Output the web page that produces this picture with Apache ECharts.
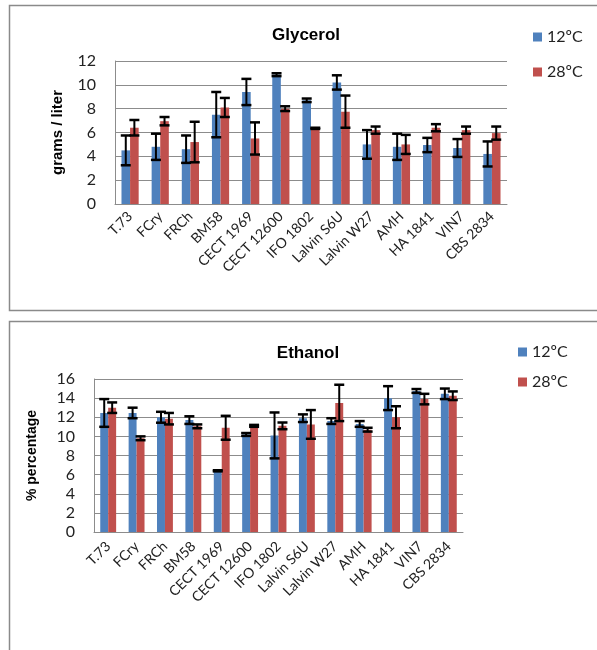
<!DOCTYPE html>
<html>
<head>
<meta charset="utf-8">
<script src="https://cdn.jsdelivr.net/npm/echarts@6/dist/echarts.min.js"></script>
<style>
  html, body { margin: 0; padding: 0; background: #fff; }
  #chart { width: 597px; height: 650px; }
</style>
</head>
<body>
<div id="chart"></div>
<script>
// Yeast strains tested
const strains = ['T.73', 'FCry', 'FRCh', 'BM58', 'CECT 1969', 'CECT 12600', 'IFO 1802',
  'Lalvin S6U', 'Lalvin W27', 'AMH', 'HA 1841', 'VIN7', 'CBS 2834'];

const seriesNames = ['12ºC', '28ºC'];

// Glycerol production (grams / liter) and standard deviations
const glycerol12 = [4.5, 4.8, 4.6, 7.5, 9.4, 10.85, 8.7, 10.2, 5.0, 4.8, 4.95, 4.7, 4.2];
const glycerol12Err = [1.25, 1.1, 1.15, 1.9, 1.1, 0.12, 0.15, 0.6, 1.2, 1.1, 0.6, 0.75, 1.05];
const glycerol28 = [6.4, 6.95, 5.2, 8.1, 5.5, 8.0, 6.35, 7.75, 6.2, 5.0, 6.4, 6.2, 5.95];
const glycerol28Err = [0.65, 0.35, 1.7, 0.8, 1.35, 0.2, 0.05, 1.35, 0.3, 0.8, 0.3, 0.3, 0.55];

// Ethanol production (% percentage) and standard deviations
const ethanol12 = [12.45, 12.45, 12.0, 11.7, 6.4, 10.2, 10.1, 11.9, 11.6, 11.3, 14.0, 14.75, 14.45];
const ethanol12Err = [1.45, 0.55, 0.57, 0.4, 0.06, 0.15, 2.4, 0.4, 0.3, 0.3, 1.25, 0.2, 0.55];
const ethanol28 = [13.0, 9.8, 11.85, 11.05, 10.9, 11.1, 11.1, 11.25, 13.5, 10.7, 12.0, 13.9, 14.25];
const ethanol28Err = [0.55, 0.2, 0.6, 0.2, 1.25, 0.1, 0.35, 1.5, 1.9, 0.2, 1.15, 0.55, 0.45];

// Axis tick values
const glycerolTicks = { min: 0, max: 12, interval: 2 };
const ethanolTicks = { min: 0, max: 16, interval: 2 };

const BLUE = '#4F81BD';
const RED = '#C0504D';
const GRID_GRAY = '#8c8c8c';
const NUM_FONT = 'Lato, "Open Sans", sans-serif';
const BOLD_FONT = '"Liberation Sans", Arial, sans-serif';

const chart = echarts.init(document.getElementById('chart'), null, { renderer: 'canvas' });

function xAxis(gridIndex, margin) {
  return {
    type: 'category', gridIndex, data: strains,
    axisLine: { lineStyle: { color: GRID_GRAY, width: 1 } },
    axisTick: { show: false },
    axisLabel: { rotate: 45, margin, fontSize: 14, color: '#222', fontFamily: NUM_FONT, interval: 0 }
  };
}

function yAxis(gridIndex, ticks, name, nameGap, nameSize) {
  return {
    type: 'value', gridIndex, min: ticks.min, max: ticks.max, interval: ticks.interval,
    name, nameLocation: 'middle', nameGap,
    nameTextStyle: { fontFamily: BOLD_FONT, fontWeight: 'bold', fontSize: nameSize, color: '#000' },
    axisLine: { show: true, lineStyle: { color: GRID_GRAY, width: 1 } },
    axisTick: { show: false },
    splitLine: { lineStyle: { color: GRID_GRAY, width: 1 } },
    axisLabel: { fontSize: 16, color: '#222', fontFamily: NUM_FONT, margin: 19 }
  };
}

function bars(name, color, values, axisIndex, catGap) {
  return {
    type: 'bar', name, data: values, xAxisIndex: axisIndex, yAxisIndex: axisIndex,
    barGap: '0%', barCategoryGap: catGap,
    itemStyle: { color }, z: 2
  };
}

// Error bars drawn through the axis scales, shifted onto the matching bar of each pair
function errorBars(values, errs, axisIndex, side, catGapRatio) {
  return {
    type: 'custom', xAxisIndex: axisIndex, yAxisIndex: axisIndex, z: 10,
    encode: { x: 0, y: [1, 2] },
    data: values.map((v, i) => [i, v - errs[i], v + errs[i]]),
    renderItem(params, api) {
      const i = api.value(0);
      const lo = api.coord([i, api.value(1)]);
      const hi = api.coord([i, api.value(2)]);
      const band = api.size([1, 0])[0];
      const barW = band * (1 - catGapRatio) / 2;
      const x = lo[0] + side * barW / 2;
      const half = 5;
      const st = { stroke: '#000', lineWidth: 2 };
      return {
        type: 'group',
        children: [
          { type: 'line', shape: { x1: x, y1: hi[1], x2: x, y2: lo[1] }, style: st },
          { type: 'line', shape: { x1: x - half, y1: hi[1], x2: x + half, y2: hi[1] }, style: { stroke: '#000', lineWidth: 2.5 } },
          { type: 'line', shape: { x1: x - half, y1: lo[1], x2: x + half, y2: lo[1] }, style: { stroke: '#000', lineWidth: 2.5 } }
        ]
      };
    }
  };
}

const option = {
  animation: false,
  backgroundColor: '#fff',
  graphic: [
    { type: 'rect', shape: { x: 9.5, y: 5.5, width: 700, height: 305 },
      style: { fill: 'none', stroke: '#8a8a8a', lineWidth: 1.5 }, z: -1 },
    { type: 'rect', shape: { x: 9.5, y: 321.5, width: 700, height: 400 },
      style: { fill: 'none', stroke: '#8a8a8a', lineWidth: 1.5 }, z: -1 }
  ],
  title: [
    { text: 'Glycerol', left: 301, top: 22, textAlign: 'center',
      textStyle: { fontFamily: BOLD_FONT, fontWeight: 'bold', fontSize: 17, color: '#000' } },
    { text: 'Ethanol', left: 303, top: 340, textAlign: 'center',
      textStyle: { fontFamily: BOLD_FONT, fontWeight: 'bold', fontSize: 17, color: '#000' } }
  ],
  legend: [
    { data: seriesNames, orient: 'vertical', left: 528, top: 24, itemGap: 19,
      itemWidth: 9, itemHeight: 9, icon: 'rect',
      textStyle: { fontFamily: NUM_FONT, fontSize: 16, color: '#222' } },
    { data: seriesNames, orient: 'vertical', left: 513, top: 339, itemGap: 14,
      itemWidth: 9, itemHeight: 9, icon: 'rect',
      textStyle: { fontFamily: NUM_FONT, fontSize: 16, color: '#222' } }
  ],
  grid: [
    { left: 115, top: 61, width: 392, height: 143 },
    { left: 94, top: 379, width: 369, height: 153 }
  ],
  xAxis: [xAxis(0, 10), xAxis(1, 12)],
  yAxis: [
    yAxis(0, glycerolTicks, 'grams / liter', 50, 15),
    yAxis(1, ethanolTicks, '% percentage', 55, 14)
  ],
  series: [
    bars(seriesNames[0], BLUE, glycerol12, 0, '43%'),
    bars(seriesNames[1], RED, glycerol28, 0, '43%'),
    errorBars(glycerol12, glycerol12Err, 0, -1, 0.43),
    errorBars(glycerol28, glycerol28Err, 0, 1, 0.43),
    bars(seriesNames[0], BLUE, ethanol12, 1, '44%'),
    bars(seriesNames[1], RED, ethanol28, 1, '44%'),
    errorBars(ethanol12, ethanol12Err, 1, -1, 0.44),
    errorBars(ethanol28, ethanol28Err, 1, 1, 0.44)
  ]
};

chart.setOption(option);
</script>
</body>
</html>
